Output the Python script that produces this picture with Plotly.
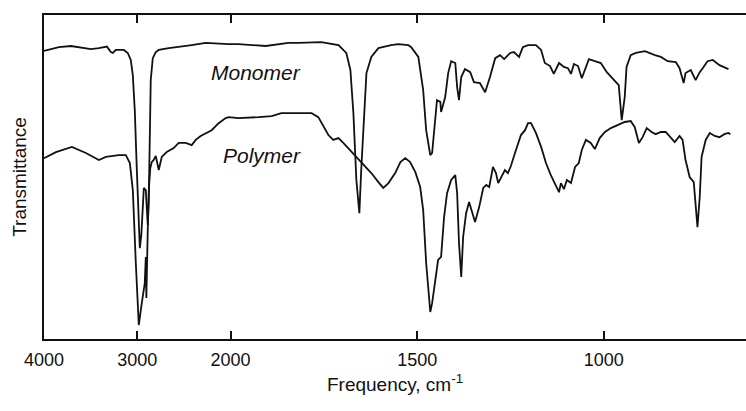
import plotly.graph_objects as go

# ---- data (wavenumber in cm-1, transmittance in arbitrary %-like units) ----
mono_wn = [4000, 3840, 3711, 3572, 3497, 3412, 3326, 3283, 3262, 3230, 3144, 3102, 3070, 3048,
           3027, 3005, 2989, 2973, 2957, 2941, 2930, 2909, 2898, 2888, 2877, 2866, 2856, 2834,
           2802, 2770, 2663, 2417, 2267, 2021, 1979, 1906, 1872, 1845, 1818, 1757, 1711, 1690,
           1679, 1671, 1663, 1655, 1650, 1642, 1636, 1623, 1604, 1570, 1551, 1524, 1516, 1497,
           1484, 1476, 1465, 1460, 1452, 1447, 1438, 1436, 1425, 1417, 1409, 1398, 1393, 1388,
           1382, 1372, 1358, 1348, 1332, 1318, 1305, 1291, 1278, 1267, 1251, 1241, 1227, 1217,
           1203, 1182, 1168, 1158, 1144, 1134, 1120, 1107, 1096, 1088, 1080, 1069, 1059, 1040,
           1024, 1008, 992, 971, 960, 952, 944, 939, 928, 914, 890, 863, 847, 829, 807, 797,
           786, 781, 767, 754, 743, 735, 722, 708, 690, 666]
mono_t = [87.9, 89.1, 89.5, 88.8, 88.5, 88.8, 89.3, 87.5, 87.2, 88.2, 88.2, 87.2, 84.9, 79.9,
          68.4, 48.7, 32.2, 23.0, 27.3, 38.8, 42.8, 42.1, 35.5, 30.6, 38.8, 61.8, 78.3, 85.5,
          87.5, 88.2, 88.8, 89.8, 90.5, 90.1, 90.1, 89.5, 90.1, 90.5, 90.5, 90.8, 89.8, 87.2,
          81.6, 67.4, 45.4, 34.5, 48.7, 67.4, 80.6, 85.9, 88.8, 89.8, 90.1, 89.8, 89.1, 85.9,
          75.0, 61.8, 53.6, 54.3, 64.1, 71.7, 71.1, 67.8, 72.7, 80.6, 84.5, 83.9, 76.0, 71.7,
          79.3, 81.9, 80.9, 77.6, 77.3, 74.3, 79.3, 85.5, 86.5, 85.2, 87.2, 87.5, 85.9, 89.1,
          89.8, 89.8, 88.2, 83.9, 82.9, 80.3, 83.9, 82.6, 82.2, 80.3, 83.6, 82.9, 78.9, 85.2,
          84.5, 83.9, 80.9, 78.3, 76.6, 65.1, 72.7, 82.6, 86.5, 87.2, 87.8, 86.5, 85.9, 84.5,
          84.2, 82.2, 77.3, 80.6, 81.6, 78.3, 80.9, 82.2, 84.5, 84.9, 83.2, 81.9]

poly_wn = [4000, 3872, 3701, 3551, 3412, 3337, 3198, 3123, 3080, 3048, 3016, 2984, 2952, 2920,
           2909, 2903, 2888, 2877, 2861, 2845, 2824, 2802, 2770, 2738, 2685, 2610, 2556, 2481,
           2417, 2374, 2321, 2267, 2203, 2128, 2053, 2021, 1979, 1925, 1890, 1864, 1818, 1783,
           1765, 1751, 1738, 1725, 1711, 1698, 1676, 1650, 1623, 1604, 1591, 1577, 1559, 1545,
           1532, 1519, 1505, 1492, 1484, 1476, 1465, 1460, 1452, 1444, 1436, 1428, 1420, 1409,
           1398, 1393, 1388, 1382, 1377, 1369, 1361, 1353, 1345, 1334, 1323, 1315, 1307, 1297,
           1289, 1283, 1275, 1265, 1257, 1249, 1238, 1230, 1222, 1211, 1203, 1195, 1182, 1168,
           1155, 1142, 1128, 1120, 1115, 1107, 1099, 1088, 1077, 1067, 1059, 1048, 1035, 1024,
           1011, 997, 981, 963, 944, 928, 917, 906, 896, 885, 872, 861, 847, 834, 821, 810, 797,
           789, 781, 770, 759, 754, 749, 743, 738, 727, 716, 703, 690, 677, 666, 661]
poly_t = [52.6, 54.6, 56.3, 54.3, 52.0, 53.0, 53.6, 53.6, 51.0, 42.1, 18.1, -2.3, 4.9, 11.5,
          20.1, 6.6, 28.9, 42.1, 49.3, 51.3, 52.0, 53.3, 48.7, 53.0, 54.6, 55.9, 57.6, 57.6,
          56.9, 58.6, 59.9, 60.9, 61.8, 64.1, 65.8, 66.1, 65.8, 66.1, 66.4, 67.4, 67.4, 67.4,
          66.1, 62.8, 60.2, 58.6, 59.2, 57.6, 54.6, 51.3, 47.7, 44.7, 42.8, 44.4, 47.7, 51.3,
          52.6, 51.3, 48.0, 43.1, 35.5, 18.1, 2.0, 4.9, 11.5, 19.1, 20.1, 33.2, 41.1, 45.4,
          47.0, 41.1, 24.7, 13.5, 26.6, 34.5, 38.2, 34.9, 31.6, 36.5, 42.8, 43.8, 43.1, 49.7,
          47.7, 44.4, 46.4, 48.7, 47.7, 50.0, 54.3, 57.2, 60.2, 61.8, 64.1, 64.1, 60.9, 56.3,
          51.0, 47.0, 43.1, 41.4, 44.4, 42.4, 45.4, 44.4, 49.7, 51.0, 55.3, 58.6, 57.6, 55.6,
          59.2, 61.2, 62.5, 63.5, 64.5, 64.8, 62.8, 57.6, 59.5, 62.5, 61.2, 60.5, 61.2, 61.2,
          59.2, 57.9, 59.9, 58.6, 52.0, 46.4, 44.7, 37.8, 29.9, 39.8, 53.0, 58.6, 60.9, 59.9,
          59.5, 60.5, 60.9, 60.5]

tick_wn = [4000, 3000, 2000, 1500, 1000]
tick_labels = ["4000", "3000", "2000", "1500", "1000"]
series_names = ["Monomer", "Polymer"]


# IR-style axis: scale changes (x4) below 2000 cm-1
def to_axis(w):
    return 4000 - w if w >= 2000 else 2000 + 4 * (2000 - w)


FONT = "Liberation Sans, Arial, Helvetica, sans-serif"

fig = go.Figure()
for name, wn, t in [(series_names[0], mono_wn, mono_t), (series_names[1], poly_wn, poly_t)]:
    fig.add_trace(go.Scatter(
        x=[to_axis(w) for w in wn], y=t, mode="lines", name=name,
        line=dict(color="#111111", width=1.8), showlegend=False,
    ))

fig.add_annotation(x=to_axis(1806), y=80.9, xref="x", yref="y", text="<i>Monomer</i>",
                   showarrow=False, xanchor="right", yanchor="middle",
                   font=dict(family=FONT, size=21, color="#111111"))
fig.add_annotation(x=to_axis(1806), y=53.6, xref="x", yref="y", text="<i>Polymer</i>",
                   showarrow=False, xanchor="right", yanchor="middle",
                   font=dict(family=FONT, size=21, color="#111111"))

fig.update_xaxes(
    range=[to_axis(4000), to_axis(619)],
    tickvals=[to_axis(w) for w in tick_wn], ticktext=tick_labels,
    ticks="inside", ticklen=8, tickwidth=1.5, tickcolor="#111111",
    showline=True, linecolor="#111111", linewidth=1.5, mirror="ticks",
    showgrid=False, zeroline=False,
    tickfont=dict(family=FONT, size=18, color="#111111"),
    ticklabelstandoff=4,
    title=dict(text="Frequency, cm<sup>-1</sup>", standoff=8,
               font=dict(family=FONT, size=19, color="#111111")),
)
fig.update_yaxes(
    range=[-6.9, 99.7],
    showticklabels=False, ticks="",
    showline=True, linecolor="#111111", linewidth=1.5, mirror=False,
    showgrid=False, zeroline=False,
    title=dict(text="Transmittance", standoff=11,
               font=dict(family=FONT, size=19, color="#111111")),
)

fig.update_layout(
    width=746, height=411,
    margin=dict(l=44, r=0, t=15, b=72, autoexpand=False),
    paper_bgcolor="white", plot_bgcolor="white",
    font=dict(family=FONT, color="#111111"),
)

fig.write_html("out.html", include_plotlyjs=True, config={"displayModeBar": False})
